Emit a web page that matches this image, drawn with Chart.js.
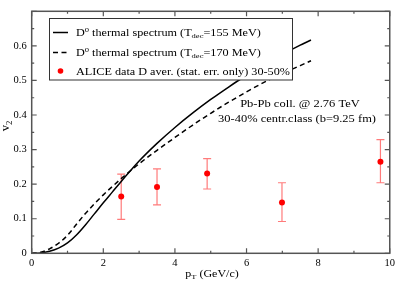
<!DOCTYPE html>
<html>
<head>
<meta charset="utf-8">
<script src="https://cdn.jsdelivr.net/npm/chart.js@4.4.0/dist/chart.umd.min.js"></script>
<style>
html, body { margin: 0; padding: 0; background: #fff; }
canvas { display: block; }
</style>
</head>
<body>
<canvas id="c" width="399" height="282" style="width:399px;height:282px"></canvas>
<script>
// thermal spectrum curves
var ptCurve   = [0, 0.25, 0.5, 0.75, 1, 1.25, 1.5, 1.75, 2, 2.25, 2.5, 2.75, 3, 3.5, 4, 4.5, 5, 5.5, 6, 6.5, 7, 7.5, 7.8];
var v2T155    = [0, 0.001, 0.006, 0.015, 0.03, 0.053, 0.082, 0.114, 0.146, 0.177, 0.208, 0.238, 0.267, 0.318, 0.364, 0.406, 0.445, 0.481, 0.515, 0.546, 0.575, 0.602, 0.617];
var v2T170    = [0, 0.003, 0.013, 0.029, 0.052, 0.084, 0.115, 0.143, 0.169, 0.193, 0.216, 0.238, 0.259, 0.298, 0.335, 0.371, 0.405, 0.437, 0.467, 0.495, 0.52, 0.543, 0.557];

// ALICE D average points
var alicePt    = [2.5, 3.5, 4.9, 6.99, 9.74];
var aliceV2    = [0.164, 0.192, 0.231, 0.147, 0.265];
var aliceLow   = [0.098, 0.140, 0.186, 0.092, 0.204];
var aliceHigh  = [0.229, 0.244, 0.274, 0.204, 0.329];

var xTicks = [0, 2, 4, 6, 8, 10];
var yTicks = [0, 0.1, 0.2, 0.3, 0.4, 0.5, 0.6];

var SERIF = '"Liberation Serif", "Times New Roman", serif';
var SY = 0.8; // text in the picture is squashed vertically

function setFont(ctx, size){ ctx.font = size + 'px ' + SERIF; }

function richWidth(ctx, parts, size){
	var w = 0;
	parts.forEach(function(p){
		setFont(ctx, p[1] ? size * 0.7 : size);
		w += ctx.measureText(p[0]).width;
	});
	return w;
}

function richText(ctx, parts, x, y, size, align, sy){
	var w = richWidth(ctx, parts, size), cx = 0;
	if(align == 'center') cx = -w / 2;
	else if(align == 'right') cx = -w;
	ctx.save();
	ctx.translate(x, y);
	ctx.scale(1, sy);
	ctx.textBaseline = 'alphabetic';
	ctx.textAlign = 'left';
	ctx.fillStyle = '#000';
	parts.forEach(function(p){
		var s = p[1] ? size * 0.7 : size, dy = 0;
		if(p[1] == '^') dy = -size * 0.42;
		if(p[1] == '_') dy = size * 0.25;
		setFont(ctx, s);
		ctx.fillText(p[0], cx, dy);
		cx += ctx.measureText(p[0]).width;
	});
	ctx.restore();
}

var decor = {
	id: 'decor',
	beforeDatasetsDraw: function(chart){
		// error bars under the points
		var ctx = chart.ctx, xs = chart.scales.x, ys = chart.scales.y;
		ctx.save();
		ctx.strokeStyle = '#ff7b7b';
		ctx.lineWidth = 1.2;
		for(var i = 0; i < alicePt.length; i++){
			var px = xs.getPixelForValue(alicePt[i]),
				lo = ys.getPixelForValue(aliceLow[i]),
				hi = ys.getPixelForValue(aliceHigh[i]);
			ctx.beginPath();
			ctx.moveTo(px, lo); ctx.lineTo(px, hi);
			ctx.moveTo(px - 4, lo); ctx.lineTo(px + 4, lo);
			ctx.moveTo(px - 4, hi); ctx.lineTo(px + 4, hi);
			ctx.stroke();
		}
		ctx.restore();
	},
	afterDraw: function(chart){
		var ctx = chart.ctx, a = chart.chartArea, xs = chart.scales.x, ys = chart.scales.y, v, p;
		ctx.save();
		// frame and inward ticks on all sides
		ctx.strokeStyle = '#555';
		ctx.lineWidth = 1.5;
		ctx.strokeRect(a.left, a.top, a.right - a.left, a.bottom - a.top);
		ctx.lineWidth = 1.2;
		ctx.beginPath();
		for(v = 0; v <= 10; v++){
			p = xs.getPixelForValue(v);
			var lx = (v % 2 == 0) ? 5 : 2.5;
			ctx.moveTo(p, a.bottom); ctx.lineTo(p, a.bottom - lx);
			ctx.moveTo(p, a.top); ctx.lineTo(p, a.top + lx);
		}
		for(v = 0; v <= 14; v++){
			p = ys.getPixelForValue(v * 0.05);
			var ly = (v % 2 == 0) ? 5 : 2.5;
			ctx.moveTo(a.left, p); ctx.lineTo(a.left + ly, p);
			ctx.moveTo(a.right, p); ctx.lineTo(a.right - ly, p);
		}
		ctx.stroke();

		// legend box
		ctx.fillStyle = '#fff';
		ctx.fillRect(49.5, 18.5, 243, 61.5);
		ctx.strokeStyle = '#333';
		ctx.lineWidth = 1;
		ctx.strokeRect(49.5, 18.5, 243, 61.5);

		ctx.strokeStyle = '#000';
		ctx.lineWidth = 1.5;
		ctx.beginPath(); ctx.moveTo(53, 32.5); ctx.lineTo(68, 32.5); ctx.stroke();
		ctx.setLineDash([5, 3.5]);
		ctx.beginPath(); ctx.moveTo(53, 52.5); ctx.lineTo(68, 52.5); ctx.stroke();
		ctx.setLineDash([]);
		ctx.fillStyle = '#ff0000';
		ctx.beginPath(); ctx.arc(60.5, 71, 2.8, 0, Math.PI * 2); ctx.fill();

		richText(ctx, [['D', ''], ['0', '^'], [' thermal spectrum (T', ''], ['dec', '_'], ['=155 MeV)', '']], 76, 36, 12.2, 'left', SY);
		richText(ctx, [['D', ''], ['0', '^'], [' thermal spectrum (T', ''], ['dec', '_'], ['=170 MeV)', '']], 76, 56, 12.2, 'left', SY);
		richText(ctx, [['ALICE data D aver. (stat. err. only) 30-50%', '']], 76, 74.5, 12.2, 'left', SY);

		// annotation
		richText(ctx, [['Pb-Pb coll. @ 2.76 TeV', '']], 300, 107, 12.5, 'center', SY);
		richText(ctx, [['30-40% centr.class (b=9.25 fm)', '']], 297, 121.5, 12.5, 'center', SY);

		// axis titles
		richText(ctx, [['p', ''], ['T', '_'], [' (GeV/c)', '']], 212, 276.5, 12, 'center', SY);
		ctx.save();
		ctx.translate(9, 126);
		ctx.rotate(-Math.PI / 2);
		richText(ctx, [['v', ''], ['2', '_']], 0, 0, 12.5, 'center', 1);
		ctx.restore();
		ctx.restore();
	}
};

function pairs(xs, ys){
	return xs.map(function(x, i){ return { x: x, y: ys[i] }; });
}

new Chart(document.getElementById('c').getContext('2d'), {
	type: 'scatter',
	data: {
		datasets: [
			{ type: 'line', data: pairs(ptCurve, v2T155), borderColor: '#000', borderWidth: 1.5, pointRadius: 0, cubicInterpolationMode: 'monotone', fill: false },
			{ type: 'line', data: pairs(ptCurve, v2T170), borderColor: '#000', borderWidth: 1.5, borderDash: [5, 3.5], pointRadius: 0, cubicInterpolationMode: 'monotone', fill: false },
			{ type: 'scatter', data: pairs(alicePt, aliceV2), pointRadius: 3, backgroundColor: '#ff0000', borderWidth: 0 }
		]
	},
	options: {
		responsive: false,
		animation: false,
		devicePixelRatio: 1,
		layout: { padding: { left: 0, right: 6.3, top: 1.3, bottom: 0 } },
		plugins: { legend: { display: false }, tooltip: { enabled: false } },
		scales: {
			x: {
				type: 'linear', min: 0, max: 10,
				afterBuildTicks: function(s){ s.ticks = xTicks.map(function(v){ return { value: v }; }); },
				ticks: { color: '#000', font: { family: SERIF, size: 10.5 }, padding: 4, maxRotation: 0, autoSkip: false,
					callback: function(v){ return String(v); } },
				grid: { display: false, drawTicks: false },
				border: { display: false },
				afterFit: function(s){ s.height = 28.7; }
			},
			y: {
				type: 'linear', min: 0, max: 0.7,
				afterBuildTicks: function(s){ s.ticks = yTicks.map(function(v){ return { value: v }; }); },
				ticks: { color: '#000', font: { family: SERIF, size: 10.5 }, padding: 5,
					callback: function(v){ return v === 0 ? '0' : v.toFixed(1); } },
				grid: { display: false, drawTicks: false },
				border: { display: false },
				afterFit: function(s){ s.width = 31.7; }
			}
		}
	},
	plugins: [decor]
});
</script>
</body>
</html>
